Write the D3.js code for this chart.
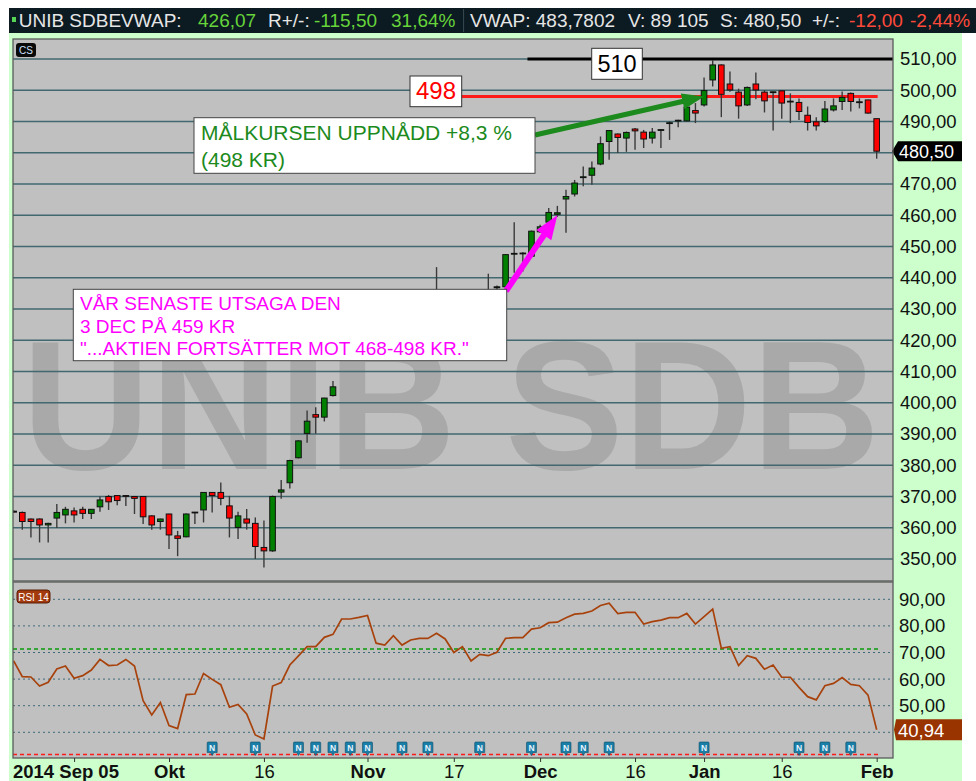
<!DOCTYPE html>
<html><head><meta charset="utf-8">
<script src="https://cdn.jsdelivr.net/npm/d3@7"></script>
<style>
body{margin:0;background:#fff;}
svg{display:block;font-family:"Liberation Sans",Arial,sans-serif;}
</style>
</head><body>
<svg id="c" width="976" height="781"></svg>
<script>
// ---------- DATA ----------
const dates = [
"2014-09-05","2014-09-08","2014-09-09","2014-09-10","2014-09-11","2014-09-12","2014-09-15","2014-09-16","2014-09-17","2014-09-18","2014-09-19",
"2014-09-22","2014-09-23","2014-09-24","2014-09-25","2014-09-26","2014-09-29","2014-09-30",
"2014-10-01","2014-10-02","2014-10-03","2014-10-06","2014-10-07","2014-10-08","2014-10-09","2014-10-10","2014-10-13","2014-10-14","2014-10-15","2014-10-16","2014-10-17",
"2014-10-20","2014-10-21","2014-10-22","2014-10-23","2014-10-24","2014-10-27","2014-10-28","2014-10-29","2014-10-30","2014-10-31",
"2014-11-03","2014-11-04","2014-11-05","2014-11-06","2014-11-07","2014-11-10","2014-11-11","2014-11-12","2014-11-13","2014-11-14",
"2014-11-17","2014-11-18","2014-11-19","2014-11-20","2014-11-21","2014-11-24","2014-11-25","2014-11-26","2014-11-27","2014-11-28",
"2014-12-01","2014-12-02","2014-12-03","2014-12-04","2014-12-05","2014-12-08","2014-12-09","2014-12-10","2014-12-11","2014-12-12",
"2014-12-15","2014-12-16","2014-12-17","2014-12-18","2014-12-19","2014-12-22","2014-12-23","2014-12-29","2014-12-30",
"2015-01-02","2015-01-05","2015-01-07","2015-01-08","2015-01-09","2015-01-12","2015-01-13","2015-01-14","2015-01-15","2015-01-16",
"2015-01-19","2015-01-20","2015-01-21","2015-01-22","2015-01-23","2015-01-26","2015-01-27","2015-01-28","2015-01-29","2015-01-30",
"2015-02-02"];

const openP = [365.3,364.9,362.8,362.8,360.9,363.1,364.1,365.4,365.9,364.6,366.7,370.0,370.3,370.3,370.0,370.0,363.8,362.0,364.4,357.4,
357.1,364.9,365.7,371.3,371.3,367.0,360.1,362.8,361.4,353.7,352.6,371.4,374.4,382.4,390.2,396.2,395.4,402.3,414,418,
421,423,426,421,421.5,425,422.5,425.5,427,428,431,430,426,429,425,429,436.8,437.1,447.6,447.7,
446.9,454.7,457.8,460.3,465.2,466.8,472.1,472.8,476.4,483.6,486.0,484.7,487.6,486.6,484.7,487.2,489.4,490.2,490.2,493.5,
495.3,503.3,508.1,502.0,499.4,495.3,502.0,499.4,499.3,499.8,496.3,496.1,492.0,489.9,490.0,493.7,496.4,499.0,496.1,496.9,490.9];
const highP = [365.6,365.2,363.0,363.0,361.6,367.6,366.7,366.5,366.7,366.0,370.0,370.5,370.5,370.4,370.1,370.1,364.0,362.9,364.5,359.0,
364.6,365.0,371.4,371.4,374.5,370.2,365.1,366.0,363.3,362.3,370.3,375.3,381.8,388.0,397.5,398.6,401.6,407.0,419,422,
424,427,426.5,423,426,426,426.5,428,429,443.4,433,431,430,429.5,430,441.3,437.5,447.6,457.8,448.2,
455.1,457.0,462.3,463.0,468.2,471.3,475.6,477.2,485.2,487.3,486.2,486.8,487.9,487.3,487.9,487.6,490.0,490.6,495.3,495.9,
504.1,509.7,508.3,506.0,500.5,501.2,505.7,500.0,499.6,500.0,499.0,497.4,494.8,491.4,496.6,497.4,499.6,499.3,497.4,497.0,491.0];
const lowP = [364.8,359.4,356.9,355.3,355.3,359.9,361.4,361.7,362.8,362.8,365.1,365.7,367.2,367.0,364.4,361.2,359.4,359.4,353.2,350.9,
357.0,361.2,361.7,364.9,367.2,356.9,356.4,359.4,350.0,347.3,352.3,369.3,372.6,382.2,387.2,390.1,394.0,402.0,413.5,417,
420,422,420,419,421,421.5,422,424.5,426,427,428.5,425,425.5,424,424.5,428,435,436.5,441.6,442,
446.5,454.3,457.5,459.5,454.4,466.0,469.3,469.8,476.0,477.8,479.9,480.3,481.0,481.5,483.0,481.5,484.1,488.2,490.0,489.5,
494.8,501.2,491.4,499.5,490.9,495.0,497.1,492.9,487.1,490.9,489.5,490.5,487.1,487.1,489.5,493.2,493.7,493.2,494.2,492.5,478.1];
const closeP = [365.0,362.0,362.0,360.9,361.4,364.9,365.9,364.1,364.6,365.9,368.9,368.3,368.7,370.2,369.4,363.5,360.9,362.8,357.7,356.6,
364.4,365.0,371.3,370.3,369.4,363.1,363.8,361.5,354.0,352.6,370.0,372.1,381.5,387.8,394.1,395.4,401.5,405.1,418,421,
423,426,421,421.5,425,422.5,425.5,427,428,431,430,426,429,425,429,434.5,437.1,447.4,447.8,447.9,
454.9,456.3,460.9,460.8,466.0,470.3,472.3,475.1,482.9,487.1,484.9,486.5,487.0,484.4,486.6,487.4,489.6,490.4,494.6,492.7,
499.9,508.1,498.7,500.1,495.0,500.9,500.1,496.6,499.5,495.9,496.5,493.2,489.7,488.6,494.0,495.0,497.7,496.4,496.3,492.7,480.5];

const rsi14 = [66.8,60.9,60.8,57.4,58.8,63.8,64.9,60.3,61.3,63.4,67.4,65.1,65.3,67.4,64.9,51.9,46.5,51.2,42.5,41.4,
54.2,54.4,62.1,59.9,57.9,49.4,50.5,46.9,39.0,37.5,57.4,58.7,65.3,68.7,72.2,72.2,75.7,76.8,82.6,82.6,
83.2,83.9,73.5,72.8,76.3,72.8,74.7,75.3,75.3,77.2,75.1,70.0,72.2,66.8,69.3,68.8,70.1,75.3,75.6,75.6,
78.8,79.3,81.2,81.4,83.1,84.4,84.7,85.6,87.7,88.5,84.6,85.1,85.1,80.7,81.6,82.2,83.1,83.1,84.7,80.7,
83.5,86.3,71.6,72.2,65.1,68.8,67.8,63.7,65.3,60.7,60.7,56.9,53.4,52.2,57.5,58.4,60.6,58.0,57.5,54.0,40.94];

const newsDates = ["2014-10-08","2014-10-15","2014-10-22","2014-10-24","2014-10-28","2014-10-30","2014-11-03","2014-11-07","2014-11-12",
"2014-11-20","2014-11-28","2014-12-04","2014-12-08","2014-12-11","2015-01-02","2015-01-20","2015-01-23","2015-01-28"];

const priceTicks = [350,360,370,380,390,400,410,420,430,440,450,460,470,480,490,500,510];
const rsiTicks = [40,50,60,70,80,90];
const rsiLabelTicks = [50,60,70,80,90];
const xTickDates = ["2014-09-16","2014-10-01","2014-10-16","2014-11-03","2014-11-17","2014-12-01","2014-12-16","2015-01-02","2015-01-16","2015-02-02"];
const xTickLabels = ["","Okt","16","Nov","17","Dec","16","Jan","16","Feb"];
const xTickBold = [true,true,false,true,false,true,false,true,false,true];
const lastPrice = 480.50, lastRsi = 40.94;
const targetLevel = 498, highLevel = 510, rsiHigh = 71.3, rsiLow = 31.7;

// ---------- LAYOUT ----------
const svg = d3.select("#c");
const PL = 13, PR = 893, PT = 39, PB = 581, RT = 582, RB = 758;
const x = d3.scalePoint().domain(dates).range([13.67, 876.67]);
const y = d3.scaleLinear().domain([350, 510]).range([559, 59]);
const yr = d3.scaleLinear().domain([40, 90]).range([732.3, 599.3]);
const fmt = v => d3.format(".2f")(v).replace(".", ",");

svg.append("rect").attr("width",976).attr("height",781).attr("fill","#fff");
svg.append("rect").attr("x",9).attr("y",33).attr("width",953).attr("height",748).attr("fill","#ccffcc");

// header
svg.append("rect").attr("x",9).attr("y",8).attr("width",967).attr("height",25).attr("fill","#0c1a22");
svg.append("rect").attr("x",12).attr("y",17).attr("width",4).attr("height",5).attr("fill","#55d455");
const hdr = [
  {t:"UNIB SDBEVWAP:", x:18.7, c:"#e6e6e6"},
  {t:"426,07", x:198, c:"#66d43a"},
  {t:"R+/-:", x:268, c:"#e6e6e6"},
  {t:"-115,50", x:314, c:"#66d43a"},
  {t:"31,64%", x:391, c:"#66d43a"},
  {t:"VWAP: 483,7802", x:470, c:"#e6e6e6"},
  {t:"V: 89 105", x:628, c:"#e6e6e6"},
  {t:"S: 480,50", x:720, c:"#e6e6e6"},
  {t:"+/-:", x:812, c:"#e6e6e6"},
  {t:"-12,00", x:849, c:"#ff4a3a"},
  {t:"-2,44%", x:910, c:"#ff4a3a"}
];
svg.selectAll(".hdr").data(hdr).enter().append("text")
  .attr("x",d=>d.x).attr("y",27).attr("fill",d=>d.c).attr("font-size",19).text(d=>d.t);
svg.append("line").attr("x1",463.6).attr("x2",463.6).attr("y1",9).attr("y2",32).attr("stroke","#3a4a52");

// panels
svg.append("rect").attr("x",PL).attr("y",PT).attr("width",PR-PL).attr("height",PB-PT).attr("fill","#c0c0c0");
svg.append("rect").attr("x",PL).attr("y",RT).attr("width",PR-PL).attr("height",RB-RT).attr("fill","#c0c0c0");

const defs = svg.append("defs");
defs.append("clipPath").attr("id","cm").append("rect").attr("x",PL).attr("y",PT).attr("width",PR-PL).attr("height",PB-PT);
defs.append("clipPath").attr("id","cr").append("rect").attr("x",PL).attr("y",RT).attr("width",PR-PL).attr("height",RB-RT);

// watermark
svg.append("text").attr("x",22).attr("y",469).attr("font-size",184).attr("font-weight","bold")
  .attr("textLength",858).attr("lengthAdjust","spacingAndGlyphs")
  .attr("fill","#a9a9a9").text("UNIB SDB");

// main grid
const gm = svg.append("g").attr("clip-path","url(#cm)");
gm.selectAll(".grid").data(priceTicks).enter().append("line")
  .attr("x1",PL).attr("x2",PR).attr("y1",d=>y(d)).attr("y2",d=>y(d))
  .attr("stroke","#41696f").attr("stroke-width",1.3);

// CS label
svg.append("rect").attr("x",16).attr("y",43).attr("width",20).attr("height",14).attr("rx",3).attr("fill","#0a0a0a");
svg.append("text").attr("x",26).attr("y",54).attr("text-anchor","middle").attr("font-size",10).attr("fill","#cfe0ff").text("CS");

// level lines
gm.append("line").attr("x1",x("2014-11-28")-4).attr("x2",PR).attr("y1",y(highLevel)).attr("y2",y(highLevel))
  .attr("stroke","#000").attr("stroke-width",3);
gm.append("line").attr("x1",461).attr("x2",x("2015-02-02")+1).attr("y1",y(targetLevel)).attr("y2",y(targetLevel))
  .attr("stroke","#ff1a1a").attr("stroke-width",3);

// candles
const idx = d3.range(dates.length);
const cg = gm.append("g");
cg.selectAll(".wick").data(idx).enter().append("line")
  .attr("x1",i=>x(dates[i])).attr("x2",i=>x(dates[i]))
  .attr("y1",i=>y(highP[i])).attr("y2",i=>y(lowP[i]))
  .attr("stroke","#3a3a3a").attr("stroke-width",1.4);
cg.selectAll(".body").data(idx).enter().append("rect")
  .attr("x",i=>x(dates[i])-2.8).attr("width",5.6)
  .attr("y",i=>y(Math.max(openP[i],closeP[i])))
  .attr("height",i=>Math.max(0.8, Math.abs(y(openP[i])-y(closeP[i]))))
  .attr("fill",i=>closeP[i]>=openP[i] ? "#008000" : "#ff0000")
  .attr("stroke","#111").attr("stroke-width",1);

// price axis
const pa = svg.append("g").attr("transform",`translate(${PR},0)`)
  .call(d3.axisRight(y).tickValues(priceTicks.filter(v=>v!==480)).tickFormat(fmt).tickSize(0).tickPadding(7));
pa.select(".domain").remove();
pa.selectAll("text").attr("font-size",18.5).attr("fill","#111").attr("font-family","Liberation Sans, Arial");

// last price label
svg.append("path").attr("d",`M${PR-1},${y(lastPrice)} L${PR+5},${y(lastPrice)-10} L962,${y(lastPrice)-10} L962,${y(lastPrice)+10} L${PR+5},${y(lastPrice)+10} Z`).attr("fill","#000");
svg.append("text").attr("x",899).attr("y",y(lastPrice)+6.5).attr("font-size",18).attr("fill","#fff").text(fmt(lastPrice));

// annotations
function arrow(g, x0,y0,x1,y1,hl,hw,sw,col){
  const a = Math.atan2(y1-y0,x1-x0), ca=Math.cos(a), sa=Math.sin(a);
  const bx = x1-hl*ca, by=y1-hl*sa;
  g.append("line").attr("x1",x0).attr("y1",y0).attr("x2",bx+ca*2).attr("y2",by+sa*2).attr("stroke",col).attr("stroke-width",sw);
  g.append("path").attr("d",`M${x1},${y1} L${bx-hw*sa},${by+hw*ca} L${bx+hw*sa},${by-hw*ca} Z`).attr("fill",col);
}
const an = svg.append("g");
// 510 box
an.append("rect").attr("x",591.7).attr("y",48.3).attr("width",50.6).attr("height",31).attr("fill","#fff").attr("stroke","#333");
an.append("text").attr("x",617).attr("y",72.3).attr("text-anchor","middle").attr("font-size",23.5).attr("fill","#000").text("510");
// 498 box
an.append("rect").attr("x",410).attr("y",76).attr("width",51.7).attr("height",30.7).attr("fill","#fff").attr("stroke","#333");
an.append("text").attr("x",436).attr("y",99.3).attr("text-anchor","middle").attr("font-size",24).attr("fill","#ff0000").text("498");
// green arrow + box
arrow(an, 535, 135, x("2015-01-02"), y(targetLevel), 22, 8, 5, "#1c8a1c");
an.append("rect").attr("x",194).attr("y",117.7).attr("width",341).attr("height",55.6).attr("fill","#fff").attr("stroke","#444");
an.append("text").attr("x",201).attr("y",140).attr("font-size",21).attr("fill","#1c8a1c").text("MÅLKURSEN UPPNÅDD +8,3 %");
an.append("text").attr("x",201).attr("y",166.7).attr("font-size",21).attr("fill","#1c8a1c").text("(498 KR)");
// magenta arrow + box
arrow(an, 506, 291, x("2014-12-03"), y(460), 24, 9, 6, "#ff00ff");
an.append("rect").attr("x",73.3).attr("y",289.3).attr("width",433.4).attr("height",71.4).attr("fill","#fff").attr("stroke","#444");
const mt = ["VÅR SENASTE UTSAGA DEN","3 DEC PÅ 459 KR","\"...AKTIEN FORTSÄTTER MOT 468-498 KR.\""];
an.selectAll(".mt").data(mt).enter().append("text")
  .attr("x",80).attr("y",(d,i)=>310+i*22.5).attr("font-size",19).attr("fill","#ff00ff").text(d=>d);

// ---------- RSI ----------
const gr = svg.append("g").attr("clip-path","url(#cr)");
gr.selectAll(".rg").data(rsiTicks).enter().append("line")
  .attr("x1",PL).attr("x2",PR).attr("y1",d=>yr(d)).attr("y2",d=>yr(d))
  .attr("stroke","#3f6878").attr("stroke-width",1).attr("stroke-dasharray","2,3");
gr.append("line").attr("x1",PL).attr("x2",881).attr("y1",yr(rsiHigh)).attr("y2",yr(rsiHigh))
  .attr("stroke","#0a9a0a").attr("stroke-width",1.5).attr("stroke-dasharray","4,3");
gr.append("line").attr("x1",PL).attr("x2",881).attr("y1",yr(rsiLow)).attr("y2",yr(rsiLow))
  .attr("stroke","#ff1a1a").attr("stroke-width",1.5).attr("stroke-dasharray","4,3");
gr.append("path").datum(idx)
  .attr("d",d3.line().x(i=>x(dates[i])).y(i=>yr(rsi14[i])))
  .attr("fill","none").attr("stroke","#a8420c").attr("stroke-width",1.7);

// news markers
const nm = gr.selectAll(".nm").data(newsDates).enter().append("g")
  .attr("transform",d=>`translate(${x(d)},742.5)`);
nm.append("path").attr("d","M-5,0.5 Q-5,-0.5 -4,-0.5 L4,-0.5 Q5,-0.5 5,0.5 L5,10 L1.7,10 L0,13 L-1.7,10 L-5,10 Z")
  .attr("fill","#1b7ea6").attr("stroke","#0c4d6a").attr("stroke-width",0.6);
nm.append("text").attr("x",0).attr("y",8.5).attr("text-anchor","middle").attr("font-size",8.5).attr("font-weight","bold")
  .attr("fill","#e8f4ff").text("N");

// RSI label
svg.append("rect").attr("x",17).attr("y",590).attr("width",33).attr("height",13).attr("rx",3).attr("fill","#a33a0e").attr("stroke","#5a1c04");
svg.append("text").attr("x",33.5).attr("y",600.5).attr("text-anchor","middle").attr("font-size",10).attr("fill","#fff").text("RSI  14");

const ra = svg.append("g").attr("transform",`translate(${PR},0)`)
  .call(d3.axisRight(yr).tickValues(rsiLabelTicks).tickFormat(fmt).tickSize(0).tickPadding(6));
ra.select(".domain").remove();
ra.selectAll("text").attr("font-size",18.5).attr("fill","#111");
svg.append("path").attr("d",`M${PR+1},${yr(lastRsi)} L${PR+3},${yr(lastRsi)-10.5} L962,${yr(lastRsi)-10.5} L962,${yr(lastRsi)+10.5} L${PR+3},${yr(lastRsi)+10.5} Z`).attr("fill","#993300");
svg.append("text").attr("x",898).attr("y",yr(lastRsi)+7).attr("font-size",18.5).attr("fill","#fff").text(fmt(lastRsi));

// panel borders
svg.append("rect").attr("x",PL).attr("y",PT).attr("width",PR-PL).attr("height",PB-PT).attr("fill","none").attr("stroke","#5a5a5a").attr("stroke-width",1.3);
svg.append("rect").attr("x",PL).attr("y",RT).attr("width",PR-PL).attr("height",RB-RT).attr("fill","none").attr("stroke","#5a5a5a").attr("stroke-width",1.3);

// x axis
const xa = svg.append("g").attr("transform",`translate(0,${RB})`)
  .call(d3.axisBottom(x).tickValues(xTickDates).tickFormat((d,i)=>xTickLabels[i]).tickSize(4));
xa.select(".domain").remove();
xa.selectAll("line").attr("stroke","#333");
xa.selectAll("text").attr("y",20).attr("dy",0).attr("font-size",18.5).attr("fill","#111")
  .attr("font-weight",(d,i)=>xTickBold[i]?"bold":"normal");
svg.append("text").attr("x",13).attr("y",778).attr("font-size",18.5).attr("font-weight","bold").attr("fill","#111").text("2014 Sep 05");
</script>
</body></html>
